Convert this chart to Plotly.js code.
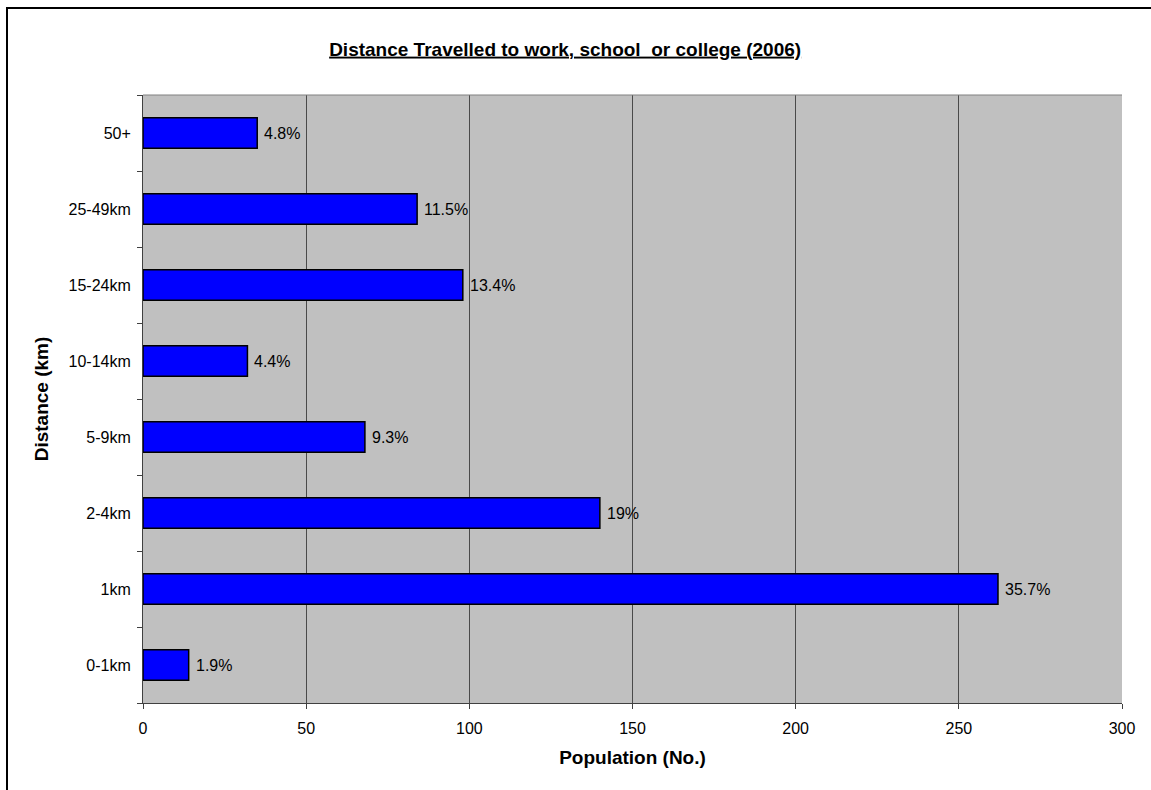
<!DOCTYPE html>
<html>
<head>
<meta charset="utf-8">
<script src="https://cdn.plot.ly/plotly-3.0.1.min.js"></script>
<style>
html,body{margin:0;padding:0;background:#fff;overflow:hidden;}
#chart{position:absolute;left:0;top:0;width:1151px;height:790px;}
#frame{position:absolute;left:6px;top:7px;width:1200px;height:900px;border-left:2px solid #000;border-top:2px solid #000;pointer-events:none;}
</style>
</head>
<body>
<div id="chart"></div>
<div id="frame"></div>
<script>
const categories = ["0-1km", "1km", "2-4km", "5-9km", "10-14km", "15-24km", "25-49km", "50+"];
const population = [14, 262, 140, 68, 32, 98, 84, 35];
const percentLabels = ["1.9%", "35.7%", "19%", "9.3%", "4.4%", "13.4%", "11.5%", "4.8%"];
const xTicks = [0, 50, 100, 150, 200, 250, 300];

const trace = {
  type: "bar",
  orientation: "h",
  y: categories,
  x: population,
  marker: {color: "#0000FF", line: {color: "#000", width: 1.5}},
  width: 0.4,
  hoverinfo: "none"
};

const labelAnnotations = categories.map((c, i) => ({
  x: population[i], y: c, xref: "x", yref: "y",
  text: percentLabels[i], showarrow: false,
  xanchor: "left", yanchor: "middle", xshift: 5,
  font: {size: 16, color: "#000"}
}));

const layout = {
  width: 1151, height: 790,
  margin: {l: 143, r: 29, t: 95, b: 87},
  paper_bgcolor: "#fff",
  plot_bgcolor: "#C0C0C0",
  font: {family: "Liberation Sans, Arial, sans-serif", size: 16, color: "#000"},
  showlegend: false,
  title: {
    text: "Distance Travelled to work, school  or college (2006)",
    font: {size: 19, weight: "bold", lineposition: "under", color: "#000"},
    x: 0.491, xanchor: "center", xref: "container",
    y: 0.938, yanchor: "middle", yref: "container"
  },
  xaxis: {
    range: [0, 300],
    tickvals: xTicks,
    ticktext: xTicks.map(String),
    showgrid: true, gridcolor: "#4a4a4a", gridwidth: 1,
    zeroline: false,
    showline: true, linecolor: "#404040", linewidth: 1,
    ticks: "outside", ticklen: 5, tickcolor: "#404040",
    ticklabelstandoff: 6,
    tickfont: {size: 16},
    title: {text: "Population (No.)", font: {size: 19, weight: "bold"}, standoff: 14}
  },
  yaxis: {
    type: "category",
    categoryorder: "array",
    categoryarray: categories,
    range: [-0.5, 7.5],
    showgrid: false,
    zeroline: false,
    showline: true, linecolor: "#404040", linewidth: 1,
    ticks: "outside", ticklen: 5, tickcolor: "#404040",
    tickson: "boundaries",
    ticklabelstandoff: 8,
    tickfont: {size: 16},
    title: {text: "Distance (km)", font: {size: 19, weight: "bold"}, standoff: 14}
  },
  annotations: labelAnnotations,
  shapes: [
    {type: "line", xref: "paper", yref: "paper", x0: 0, x1: 1, y0: 1, y1: 1, line: {color: "#808080", width: 1}}
  ]
};

Plotly.newPlot("chart", [trace], layout, {displayModeBar: false, staticPlot: true});
</script>
</body>
</html>
